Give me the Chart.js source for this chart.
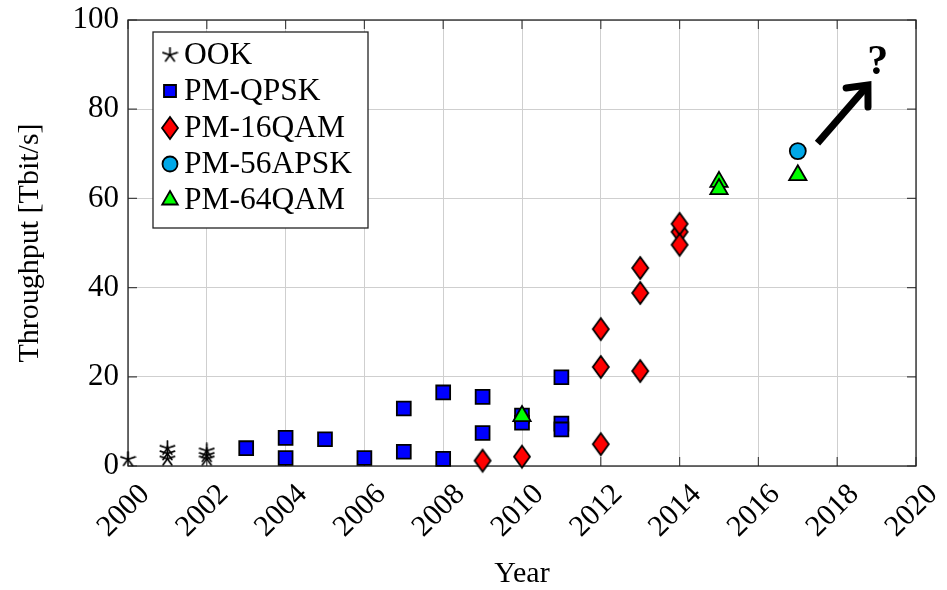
<!DOCTYPE html>
<html>
<head>
<meta charset="utf-8">
<script src="https://cdn.jsdelivr.net/npm/chart.js@4.4.1/dist/chart.umd.min.js"></script>
<style>
  html, body { margin: 0; padding: 0; background: #fff; }
  #wrap { width: 947px; height: 590px; }
</style>
</head>
<body>
<div id="wrap"><canvas id="throughputChart"></canvas></div>
<script>
const yearTicks = [2000, 2002, 2004, 2006, 2008, 2010, 2012, 2014, 2016, 2018, 2020];
const throughputTicks = [0, 20, 40, 60, 80, 100];

const ookYears = [2000, 2001, 2001, 2001, 2002, 2002, 2002];
const ookValues = [1.5, 4.0, 2.8, 1.6, 3.4, 2.4, 1.6];

const qpskYears = [2003, 2004, 2004, 2005, 2006, 2007, 2007, 2008, 2008, 2009, 2009, 2010, 2010, 2011, 2011, 2011];
const qpskValues = [4.0, 6.3, 1.8, 6.0, 1.8, 12.9, 3.2, 16.5, 1.6, 15.5, 7.4, 11.3, 9.7, 19.9, 9.5, 8.2];

const qam16Years = [2009, 2010, 2012, 2012, 2012, 2013, 2013, 2013, 2014, 2014, 2014];
const qam16Values = [1.2, 2.1, 30.7, 22.2, 4.9, 44.4, 38.8, 21.3, 52.5, 54.3, 49.6];

const apsk56Years = [2017];
const apsk56Values = [70.6];

const qam64Years = [2010, 2015, 2015, 2017];
const qam64Values = [11.2, 63.7, 62.1, 65.2];

// where things are heading
const arrowFrom = [2017.5, 72.4];
const arrowTo = [2018.78, 85.4];
const questionAt = [2019.03, 90.4];

const FONT = '"Liberation Serif", "Times New Roman", serif';

function points(xs, ys) {
  return xs.map((x, i) => ({ x: x, y: ys[i] }));
}

// five-armed asterisk like the pgfplots "star" mark
function starMark(r) {
  const c = document.createElement('canvas');
  const s = Math.ceil(r * 2 + 2);
  c.width = s; c.height = s;
  const g = c.getContext('2d');
  g.strokeStyle = '#000';
  g.lineWidth = 1.7;
  g.lineCap = 'round';
  for (let k = 0; k < 5; k++) {
    const a = -Math.PI / 2 + k * 2 * Math.PI / 5;
    g.beginPath();
    g.moveTo(s / 2, s / 2);
    g.lineTo(s / 2 + r * Math.cos(a), s / 2 + r * Math.sin(a));
    g.stroke();
  }
  return c;
}

// tall diamond
function diamondMark(hw, hh) {
  const c = document.createElement('canvas');
  const w = Math.ceil(hw * 2 + 4), h = Math.ceil(hh * 2 + 4);
  c.width = w; c.height = h;
  const g = c.getContext('2d');
  g.beginPath();
  g.moveTo(w / 2, h / 2 - hh);
  g.lineTo(w / 2 + hw, h / 2);
  g.lineTo(w / 2, h / 2 + hh);
  g.lineTo(w / 2 - hw, h / 2);
  g.closePath();
  g.fillStyle = '#ff0000';
  g.fill();
  g.lineWidth = 1.8;
  g.strokeStyle = '#000';
  g.lineJoin = 'miter';
  g.stroke();
  return c;
}

const star = starMark(7.5);
const diamond = diamondMark(8, 11);

const datasets = [
  { label: 'OOK', data: points(ookYears, ookValues), pointStyle: star, order: 5, clip: false,
    backgroundColor: '#000', borderColor: '#000', borderWidth: 1 },
  { label: 'PM-QPSK', data: points(qpskYears, qpskValues), pointStyle: 'rect', pointRadius: 9.8, order: 4, clip: false,
    backgroundColor: '#0000ff', borderColor: '#000', borderWidth: 1.8 },
  { label: 'PM-16QAM', data: points(qam16Years, qam16Values), pointStyle: diamond, order: 3, clip: false,
    backgroundColor: '#ff0000', borderColor: '#000', borderWidth: 1.8 },
  { label: 'PM-56APSK', data: points(apsk56Years, apsk56Values), pointStyle: 'circle', pointRadius: 8, order: 2, clip: false,
    backgroundColor: '#00a8e8', borderColor: '#000', borderWidth: 1.8 },
  { label: 'PM-64QAM', data: points(qam64Years, qam64Values), pointStyle: 'triangle', pointRadius: 10, order: 1, clip: false,
    backgroundColor: '#00ff00', borderColor: '#000', borderWidth: 1.8 }
];

// box frame with inward ticks on every side
const framePlugin = {
  id: 'frame',
  beforeDatasetsDraw(chart) {
    const { ctx, chartArea: a, scales } = chart;
    ctx.save();
    ctx.strokeStyle = '#444';
    ctx.lineWidth = 1.2;
    yearTicks.forEach(v => {
      const px = scales.x.getPixelForValue(v);
      ctx.beginPath();
      ctx.moveTo(px, a.bottom); ctx.lineTo(px, a.bottom - 9);
      ctx.moveTo(px, a.top); ctx.lineTo(px, a.top + 9);
      ctx.stroke();
    });
    throughputTicks.forEach(v => {
      const py = scales.y.getPixelForValue(v);
      ctx.beginPath();
      ctx.moveTo(a.left, py); ctx.lineTo(a.left + 9, py);
      ctx.moveTo(a.right, py); ctx.lineTo(a.right - 9, py);
      ctx.stroke();
    });
    ctx.strokeStyle = '#222';
    ctx.lineWidth = 1.3;
    ctx.strokeRect(a.left, a.top, a.right - a.left, a.bottom - a.top);
    ctx.restore();
  }
};

// arrow and question mark for the next step
const arrowPlugin = {
  id: 'trendArrow',
  afterDatasetsDraw(chart) {
    const { ctx, scales } = chart;
    const x0 = scales.x.getPixelForValue(arrowFrom[0]), y0 = scales.y.getPixelForValue(arrowFrom[1]);
    const x1 = scales.x.getPixelForValue(arrowTo[0]), y1 = scales.y.getPixelForValue(arrowTo[1]);
    const ang = Math.atan2(y1 - y0, x1 - x0);
    const head = 22, spread = 0.72;
    ctx.save();
    ctx.strokeStyle = '#000';
    ctx.lineWidth = 7;
    ctx.lineCap = 'butt';
    ctx.beginPath();
    ctx.moveTo(x0, y0);
    ctx.lineTo(x1 - 3 * Math.cos(ang), y1 - 3 * Math.sin(ang));
    ctx.stroke();
    ctx.lineJoin = 'miter';
    ctx.lineCap = 'round';
    ctx.beginPath();
    ctx.moveTo(x1 - head * Math.cos(ang - spread), y1 - head * Math.sin(ang - spread));
    ctx.lineTo(x1, y1);
    ctx.lineTo(x1 - head * Math.cos(ang + spread), y1 - head * Math.sin(ang + spread));
    ctx.stroke();
    ctx.fillStyle = '#000';
    ctx.font = 'bold 42px ' + FONT;
    ctx.textAlign = 'center';
    ctx.textBaseline = 'middle';
    ctx.fillText('?', scales.x.getPixelForValue(questionAt[0]), scales.y.getPixelForValue(questionAt[1]));
    ctx.restore();
  }
};

// legend box in the upper left of the plot
const legendPlugin = {
  id: 'boxLegend',
  afterDraw(chart) {
    const { ctx, chartArea: a } = chart;
    const bx = a.left + 25, by = a.top + 12, bw = 215, bh = 196;
    const rowH = 36.3;
    ctx.save();
    ctx.fillStyle = '#fff';
    ctx.fillRect(bx, by, bw, bh);
    ctx.strokeStyle = '#222';
    ctx.lineWidth = 1.3;
    ctx.strokeRect(bx, by, bw, bh);
    ctx.font = '31.5px ' + FONT;
    ctx.textBaseline = 'middle';
    ctx.textAlign = 'left';
    chart.data.datasets.forEach((ds, i) => {
      const cy = Math.round(by + 23 + i * rowH);
      const cx = bx + 17;
      ctx.fillStyle = ds.backgroundColor;
      ctx.strokeStyle = ds.borderColor;
      ctx.lineWidth = ds.borderWidth;
      let r = ds.pointRadius || 8;
      if (ds.pointStyle === 'rect') r = 8.5;
      if (ds.pointStyle === 'triangle') r = 9;
      if (ds.pointStyle === 'circle') r = 7.5;
      Chart.helpers.drawPoint(ctx, { pointStyle: ds.pointStyle, radius: r, rotation: 0, borderWidth: ds.borderWidth }, cx, cy);
      ctx.fillStyle = '#000';
      ctx.fillText(ds.label, bx + 31, cy + 1);
    });
    ctx.restore();
  }
};

new Chart(document.getElementById('throughputChart'), {
  type: 'scatter',
  data: { datasets: datasets },
  options: {
    responsive: true,
    maintainAspectRatio: false,
    animation: false,
    events: [],
    layout: { padding: { top: 20, right: 31, left: 0, bottom: 0 } },
    plugins: {
      legend: { display: false },
      tooltip: { enabled: false }
    },
    scales: {
      x: {
        type: 'linear',
        min: 2000,
        max: 2020,
        afterBuildTicks: scale => { scale.ticks = yearTicks.map(v => ({ value: v })); },
        afterFit: scale => {
          scale.height = 124;
          scale.paddingLeft = 0;
          scale.paddingRight = 0;
        },
        ticks: {
          autoSkip: false,
          maxRotation: 45,
          minRotation: 45,
          padding: 11,
          labelOffset: 17,
          color: '#000',
          font: { family: FONT, size: 30 },
          callback: v => String(v)
        },
        grid: { color: '#cfcfcf', lineWidth: 1, drawTicks: false },
        border: { display: false },
        title: { display: true, text: 'Year', color: '#000', font: { family: FONT, size: 30, lineHeight: 1.07 }, padding: { top: 0, bottom: 0 } }
      },
      y: {
        min: 0,
        max: 100,
        afterBuildTicks: scale => { scale.ticks = throughputTicks.map(v => ({ value: v })); },
        afterFit: scale => {
          scale.width = 128;
          scale.paddingTop = 0;
          scale.paddingBottom = 0;
        },
        ticks: {
          padding: 9,
          color: '#000',
          font: { family: FONT, size: 31 }
        },
        grid: { color: '#cfcfcf', lineWidth: 1, drawTicks: false },
        border: { display: false },
        title: { display: true, text: 'Throughput [Tbit/s]', color: '#000', font: { family: FONT, size: 30 }, padding: { top: 12, bottom: 0 } }
      }
    }
  },
  plugins: [framePlugin, arrowPlugin, legendPlugin]
});
</script>
</body>
</html>
